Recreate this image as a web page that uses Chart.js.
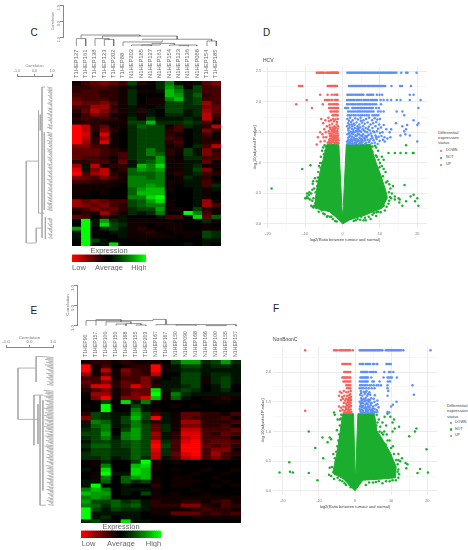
<!DOCTYPE html>
<html>
<head>
<meta charset="utf-8">
<script src="https://cdn.jsdelivr.net/npm/chart.js@4"></script>
<style>
  html, body { margin: 0; background: #fff; }
  body { position: relative; width: 468px; height: 550px; overflow: hidden; font-family: "Liberation Sans", sans-serif; }
  canvas, .txt { position: absolute; }
  canvas { filter: blur(0.3px); }
  .txt { white-space: nowrap; color: #333; line-height: 1; }
</style>
</head>
<body>
<script>
// sample labels
const samplesC = ["T1HEP127","T1HEP161","T1HEP138","T1HEP123","T1HEP202","T1HEP88","N1HEP202","N1HEP185","N1HEP127","N1HEP161","N1HEP154","N1HEP123","N1HEP136","N1HEP088","T1HEP154","T1HEP185"];
const samplesE = ["T1HEP90","T1HEP157","T1HEP100","T1HEP150","T1HEP168","T1HEP155","T1HEP203","N1HEP167","T1HEP167","N1HEP150","N1HEP090","N1HEP168","N1HEP166","N1HEP100","N1HEP155","N1HEP157"];

// heatmap C, one line per row, -9 = full red, 9 = full green
const heatC = [
  [-1,-3,-4,-5,-4,-3,3,-2,-1,2,5,1,-1,1,-4,-5],
  [-2,-2,-3,-3,-2,-1,1,0,0,2,6,4,0,3,-3,-3],
  [-2,-3,-3,-2,-2,-1,2,-1,-1,1,7,5,2,3,-3,-3],
  [-3,-3,-3,-2,-2,-1,2,0,0,0,7,6,2,4,-2,-3],
  [-4,-3,-3,-3,-2,-1,2,0,-1,-1,5,7,2,3,-3,-3],
  [-5,-4,-4,-5,-3,-1,2,0,-1,-1,3,3,2,3,-6,-3],
  [-3,-3,-6,-6,-2,-1,1,-1,0,1,3,3,2,2,-5,-4],
  [-2,-4,-7,-5,-3,-1,1,-2,1,0,3,3,1,2,-6,-4],
  [-1,-3,-5,-4,-1,-1,1,-1,1,0,2,2,1,2,-7,-3],
  [-2,-3,-2,-3,-2,-1,2,-1,3,1,1,1,2,1,-7,-2],
  [-1,-2,-2,-1,-1,-1,3,3,7,2,2,2,3,2,-3,-1],
  [-9,-7,-2,-4,-1,-1,2,4,3,3,-1,-3,2,1,-2,-7],
  [-9,-7,-2,-5,-2,0,2,3,3,3,-2,-3,0,1,-5,-2],
  [-9,-8,-1,-8,-1,0,2,3,3,3,-2,-1,0,1,-3,-1],
  [-9,-7,-2,-6,-1,0,2,3,3,3,-3,-2,0,1,-2,-1],
  [-9,-6,-2,-8,-1,0,2,3,3,3,-2,-3,0,1,-2,-2],
  [-5,-5,-3,-2,-1,0,2,3,3,3,-1,-2,0,2,-3,-7],
  [-4,-4,-4,-3,-2,-1,2,3,5,3,-2,-1,3,1,-5,-2],
  [-4,-4,-4,-3,-2,-3,2,3,5,4,-2,-1,3,1,-5,-3],
  [-4,-3,-3,-2,-1,-3,2,3,3,6,-1,0,2,2,-3,-3],
  [-2,-2,-3,-3,-1,-4,1,3,4,6,-1,-1,1,1,-4,-1],
  [-6,1,-7,-1,-2,-2,1,7,5,8,-1,-1,1,2,-1,-1],
  [-8,1,-5,-7,-1,-2,4,6,5,6,-1,-1,1,3,-5,-1],
  [-9,-3,-6,-7,-2,-1,4,4,4,5,-1,-2,1,2,-3,-2],
  [-5,-4,-3,-5,-3,-1,5,5,4,5,0,-1,2,1,-2,0],
  [-3,-3,-2,-2,-1,-1,5,5,5,5,-1,-1,1,1,-3,-1],
  [-1,-1,-1,-1,-1,0,5,5,6,5,-1,0,1,1,-3,2],
  [-1,-1,-1,-1,0,0,4,6,7,7,-1,0,0,1,-1,1],
  [-1,-1,0,-1,0,0,4,7,7,7,0,0,0,1,-1,0],
  [-1,0,0,0,0,0,5,5,8,9,0,0,0,1,-1,0],
  [-6,-4,-5,-4,-3,-3,3,4,6,8,-1,0,0,1,-6,-1],
  [-6,-5,-4,-5,-3,-2,3,4,5,5,-1,0,0,1,-6,-3],
  [-2,-3,-5,-4,-4,-2,2,3,3,6,-1,-1,0,3,-2,-1],
  [-1,-2,-1,-6,-3,-1,2,1,2,5,0,0,9,5,-3,-1],
  [-4,-3,0,-2,-1,1,0,0,0,1,-3,-3,0,8,-4,4],
  [0,9,1,6,2,1,-1,-1,-1,-1,-1,0,0,0,2,-1],
  [0,9,1,8,3,2,-1,-1,0,-1,-1,-1,0,0,-1,0],
  [6,9,0,2,3,1,-1,-2,-1,0,-1,-1,0,0,-1,-1],
  [1,9,-1,0,1,1,-1,-1,-2,-1,0,-1,-1,-1,3,2],
  [1,9,0,0,0,1,-1,-1,-1,-1,-1,0,-1,0,3,2],
  [0,9,3,1,0,0,0,-1,0,0,0,0,0,0,1,1],
  [0,9,1,1,8,0,0,0,0,0,0,0,1,0,1,0]
];

// heatmap E
const heatE = [
  [-1,-2,-2,-1,-2,-1,-1,-1,0,3,6,6,2,3,6,2],
  [-9,-1,-3,0,-1,-2,-2,-9,-1,1,3,3,1,2,2,1],
  [-9,-1,-7,-1,-5,-3,-2,-9,-1,1,2,2,1,1,1,1],
  [-6,-1,-4,-1,-4,-3,-2,-7,0,0,3,3,1,2,2,1],
  [-3,-3,-8,-1,-3,-3,-5,-2,0,1,3,3,-1,2,3,1],
  [-4,-3,-5,-2,-4,-3,-5,-1,1,1,3,3,-1,2,3,1],
  [-3,-8,-8,-2,-4,-8,-5,-2,1,1,2,3,0,1,3,0],
  [-2,-3,-5,-1,-3,-4,-4,8,1,2,3,2,0,1,2,0],
  [-1,-6,-6,-1,-3,-5,-4,9,-1,5,2,1,1,1,1,1],
  [0,-5,-9,-1,-5,-5,-8,7,-1,4,1,0,-1,-1,-2,-1],
  [0,0,3,0,8,1,5,-1,0,0,0,0,0,-1,-1,0],
  [-1,0,9,0,0,3,1,0,0,-1,0,-1,0,0,0,0],
  [0,0,9,0,0,5,1,-1,0,0,0,0,0,0,0,0],
  [-2,3,2,1,1,6,3,-3,1,-1,-4,-4,-2,-2,-1,-3],
  [-5,3,2,1,3,7,3,-9,1,-1,-4,-3,-2,-2,-3,-1],
  [-2,5,4,1,3,5,2,-2,1,-1,-6,-6,-2,-2,-2,-3],
  [1,4,5,1,2,5,3,-4,2,-1,-5,-5,-2,-2,-3,-1],
  [2,3,5,0,3,6,3,-4,2,-1,-7,-7,-3,-3,-3,-4],
  [3,3,6,0,5,6,3,-6,1,-2,-8,-8,-3,-2,-4,-3],
  [2,3,5,1,5,6,3,-5,1,-2,-7,-8,-3,-3,-3,-1],
  [1,3,3,2,3,4,3,-8,2,-3,-8,-9,-3,-4,-4,-3],
  [2,4,4,2,3,4,3,-9,3,-3,-9,-9,-4,-3,-4,-2],
  [1,3,3,2,2,4,3,-8,2,-3,-9,-9,-3,-5,-5,-1],
  [2,3,3,2,2,4,3,-7,2,-4,-8,-9,-3,-6,-3,-2],
  [2,2,3,1,2,4,2,-7,1,-3,-7,-8,-3,-5,-3,-1],
  [0,-1,2,0,0,3,9,-1,0,-1,0,0,0,0,0,0],
  [0,-1,5,0,0,7,8,-1,0,0,0,0,0,0,0,0],
  [1,0,8,0,0,8,7,-1,0,-1,0,0,-1,0,0,-1],
  [0,-1,9,1,1,8,7,0,0,0,0,-1,0,0,-1,0],
  [0,-1,5,0,4,6,7,-1,0,-1,-1,0,0,-1,0,0],
  [1,1,4,0,4,2,3,-1,0,-1,-1,-1,0,0,-1,0],
  [1,9,0,0,1,0,0,-2,0,-1,-1,0,0,-1,0,-1],
  [5,7,5,0,1,1,1,-1,0,0,0,-1,0,0,0,0],
  [7,6,6,0,1,0,3,-1,0,-1,0,0,-1,0,0,0],
  [5,6,5,0,0,0,0,-1,-1,-1,-1,-1,-1,-1,-1,-1],
  [6,3,3,4,2,3,1,-2,-1,-1,-2,-2,-1,-2,-3,-1],
  [5,4,2,4,3,4,1,-2,-2,-2,-5,-5,-2,-1,-3,-2],
  [9,3,1,3,2,2,1,-1,-1,-1,-1,-2,-3,-2,-2,-1],
  [9,1,1,1,1,1,0,-1,-1,-4,-4,-4,-2,-3,-2,-3],
  [9,1,2,0,1,1,0,0,0,0,0,-1,-1,-1,-1,-1],
  [2,3,1,0,8,1,1,0,0,0,0,0,0,0,0,0]
];

// colour key
const keyLevels = [-9,-8.5,-8,-7.5,-7,-6.5,-6,-5.5,-5,-4.5,-4,-3.5,-3,-2.5,-2,-1.5,-1,-0.5,0,0.5,1,1.5,2,2.5,3,3.5,4,4.5,5,5.5,6,6.5,7,7.5,8,8.5,9];
const keyTicks = { 3: "Low", 18: "Average", 33: "High" };

// top trees: [left x, right x, height, left foot, right foot], x in columns
const treeTopC = [
  [0.5,1.5,1.1,1.56,1.56],[3.5,4.5,1.15,1.56,1.56],[2.5,4,1.1,1.56,1.15],
  [1,7.3,0.875,1.1,0.94],[3.3,11.3,0.94,1.1,1.14],[7.6,15,1.14,1.2,1.25],
  [14.5,15.5,1.25,1.56,1.56],[5.5,9.7,1.31,1.56,1.2],[6.4,9.5,1.5,1.56,1.4],
  [7.5,8.5,1.5,1.56,1.56],[10.5,13.4,1.5,1.56,1.56],[8.6,11,1.4,1.5,1.5],[11.5,12.5,1.54,1.58,1.58]
];
const treeTopE = [
  [0.5,7.2,0.78,1.03,0.76],[1.5,4,0.73,1.03,0.84],[2.5,5,0.84,1.03,0.93],
  [3.5,4.5,0.95,1.03,1.03],[4.5,6,0.93,1.03,1],[5.5,6.5,1,1.03,1.03],
  [7.2,8.5,0.72,0.76,0.98],[7.5,15.5,0.98,1.03,1.06],[9.5,11.5,1,1.03,1.03],[12.5,14.5,1.03,1.05,1.05]
];

// side trees: [correlation, first row, correlation, last row]
const treeSideC = [
  [-0.47,20.3,-0.47,41.1],[0.1,37.3,0.1,40.9],[0.23,7.4,0.23,33.5],[0.43,1.5,0.43,39.8],
  [0.33,8.5,0.33,12.5],[0.56,13,0.56,32.7],[0.62,34.5,0.62,40],[-0.47,41.1,0.1,41.1],
  [-0.47,20.3,0.23,20.3],[0.23,33.5,0.56,33.5],[0.43,1.5,0.6,1.5],[0.1,37.3,0.43,37.3]
];
const treeSideE = [
  [-0.49,1.9,-0.49,14.8],[-0.49,14.8,0.45,14.8],[-0.49,1.9,0.28,1.9],[0.19,8.7,0.19,21.3],
  [0.28,-1,0.28,5.4],[0.45,8.7,0.45,36.4],[0.57,10,0.57,32.7],[0.36,11,0.36,21],
  [0.28,-1,0.6,-1],[0.19,8.7,0.6,8.7],[0.45,36.4,0.7,36.4]
];

// tree leaves
const leafRowsC = [1.5,1.9,2.2,2.6,2.9,3.3,3.6,4,4.3,4.7,5,5.4,5.7,6,6.4,6.8,7.1,7.5,7.8,8.2,8.5,8.9,9.2,9.6,9.9,10.3,10.6,11,11.3,11.7,12,13,13.4,13.7,14,14.4,14.8,15.1,15.5,15.8,16.2,16.5,16.9,17.2,17.6,17.9,18.3,18.6,19,19.3,19.7,20,20.4,20.7,21,21.4,21.8,22.1,22.5,22.8,23.2,23.5,23.9,24.2,24.6,24.9,25.3,25.6,26,26.3,26.7,27,27.4,27.7,28,28.4,28.8,29.1,29.5,29.8,30.2,30.5,30.9,31.2,31.6,31.9,32.3,32.6,34.8,35.1,35.5,35.9,36.2,36.6,36.9,37.3,37.6,38,38.3,38.7,39,39.4,39.7];
const leafFromC = [0.72,0.8,0.74,0.84,0.78,0.88,0.76,0.84,0.9,0.78,0.86,0.8,0.74,0.88,0.92,0.76,0.84,0.78,0.88,0.72,0.8,0.9,0.74,0.84,0.78,0.88,0.92,0.76,0.82,0.72,0.84,0.7,0.78,0.74,0.86,0.8,0.9,0.72,0.82,0.76,0.88,0.8,0.92,0.7,0.78,0.74,0.86,0.8,0.9,0.74,0.84,0.78,0.88,0.94,0.72,0.8,0.76,0.84,0.9,0.74,0.82,0.88,0.76,0.84,0.92,0.72,0.8,0.86,0.74,0.82,0.9,0.78,0.84,0.76,0.92,0.72,0.8,0.86,0.74,0.82,0.78,0.88,0.7,0.76,0.84,0.74,0.8,0.72,0.74,0.8,0.84,0.9,0.76,0.82,0.88,0.72,0.8,0.86,0.92,0.76,0.84,0.9,0.8];
const leafRowsE = [-1,-0.6,-0.3,0.1,0.4,0.8,1.1,1.5,1.8,2.2,2.5,2.9,3.2,3.6,3.9,4.2,4.6,5,5.3,5.7,6,7.5,7.9,8.2,8.6,8.9,9.2,9.6,10,10.3,10.7,11,11.4,11.7,12,12.4,12.8,13.1,13.5,13.8,14.2,14.5,14.9,15.2,15.6,15.9,16.3,16.6,17,17.3,17.7,18,18.4,18.7,19,19.4,19.8,20.1,20.5,20.8,21.2,21.5,21.9,22.2,22.6,22.9,23.3,23.6,24,24.3,24.7,25,25.4,25.7,26,26.4,26.8,27.1,27.5,27.8,28.2,28.5,28.9,29.2,29.6,29.9,30.3,30.6,31,31.3,31.7,32,32.4,32.7,33,33.4,33.8,34.1,34.5,34.8,35.2,35.5,35.9,36.2];
const leafFromE = [0.6,0.72,0.66,0.8,0.7,0.82,0.66,0.76,0.86,0.72,0.8,0.9,0.7,0.78,0.84,0.72,0.8,0.9,0.76,0.84,0.74,0.6,0.7,0.66,0.76,0.62,0.7,0.8,0.66,0.74,0.84,0.68,0.78,0.72,0.62,0.7,0.8,0.66,0.74,0.62,0.7,0.78,0.64,0.72,0.82,0.66,0.74,0.62,0.7,0.78,0.66,0.86,0.72,0.8,0.66,0.74,0.84,0.7,0.78,0.88,0.72,0.64,0.74,0.82,0.7,0.78,0.88,0.74,0.82,0.7,0.78,0.86,0.74,0.82,0.9,0.7,0.8,0.74,0.86,0.72,0.8,0.9,0.76,0.84,0.72,0.8,0.88,0.74,0.82,0.9,0.76,0.84,0.72,0.8,0.88,0.76,0.84,0.92,0.78,0.86,0.74,0.82,0.9,0.8];

// volcano axes
const volcanoXTicks = [-20,-15,-10,-5,0,5,10,15,20];
const volcanoYTicksD = [0,0.25,0.5,0.75,1,1.25,1.5,1.75,2,2.25,2.5];
const volcanoYTicksF = [0,0.25,0.5,0.75,1,1.25,1.5,1.75,2,2.25];

// volcano outlines of the dense green cloud, [log2 ratio, -log10 p]
const cloudD = [[0.1,0.18],[1,1.3],[7.5,1.3],[8.2,1.15],[9,1],[10.2,0.8],[11.5,0.56],[12,0.43],[10.6,0.26],[6.3,0.15],[2,0.07],[0,0],[-1.2,0.08],[-3.5,0.2],[-7.4,0.26],[-7.4,0.3],[-7,0.55],[-6.2,0.8],[-5.2,1.06],[-4.2,1.3],[-1,1.3],[-0.2,0.3]];
const cloudF = [[0.2,0.3],[0.8,1.3],[5.4,1.3],[6,1.02],[7.8,0.85],[9.8,0.64],[11.4,0.4],[11.2,0.22],[7.6,0.2],[2.2,0.18],[0,0],[-3.2,0.2],[-6.2,0.3],[-4.9,0.66],[-4.1,1],[-3.4,1.3],[-0.4,1.3],[0,0.3]];

// HCV points
const downRowsD = [
  [2.475,[-6.9,-6.5,-6.2,-5.9,-5.6,-5.3,-5,-4.4,-4.1,-3.8,-3.5,-3.2,-3,-2.8,-2.6,-2.4,-2.2,-2,-1.8,-1.6,-1.4,-1.2]],
  [2.26,[-11.7,-11.2,-10.8,-4,-3.6,-3.3,-3,-2.8,-2.5,-2.2,-2,-1.8,-1.5]],
  [2.115,[-6,-4,-2.9,-2.2,-1.7,-1.4]],
  [2.03,[-9.6,-4.7,-4.2,-3.9,-3.6,-3,-2.7,-2,-1.8,-1.5,-1.3]],
  [1.96,[-12.4,-5.3,-3.6,-3.2,-2.7,-2.3,-1.9,-1.6,-1.3]],
  [1.9,[-8.2,-3.6,-3.2,-2.9,-2.5,-2.2,-1.8,-1.5,-1.2]],
  [1.84,[-3.2,-2.9,-2.4,-2,-1.6,-1.3]],
  [1.78,[-2.7,-2.3,-1.9,-1.6,-1.3]]
];
const downScatterD = [[-5.7,1.72],[-5.2,1.65],[-4.6,1.7],[-3.8,1.74],[-3.1,1.7],[-2.5,1.72],[-1.9,1.71],[-1.3,1.72],[-4.9,1.55],[-4.2,1.6],[-3.5,1.62],[-2.8,1.64],[-2.2,1.6],[-1.6,1.63],[-1.2,1.6],[-6,1.5],[-5.4,1.47],[-4.5,1.5],[-3.7,1.52],[-3.2,1.55],[-2.6,1.54],[-2,1.56],[-1.4,1.52],[-6.6,1.42],[-5.9,1.35],[-5.1,1.42],[-3.4,1.44],[-2.9,1.47],[-2.4,1.46],[-1.8,1.48],[-1.2,1.45],[-3.6,1.38],[-3,1.4],[-2.5,1.38],[-2,1.41],[-1.5,1.4],[-1.1,1.37],[-4,1.33],[-3.4,1.32],[-2.8,1.34],[-2.2,1.33],[-1.7,1.35],[-1.3,1.32],[-3.1,1.48],[-2.1,1.52],[-1.6,1.44],[-2.6,1.42],[-3.3,1.36],[-1.9,1.37],[-6.9,1.3],[-4.8,1.36],[-2.3,1.68],[-1.5,1.67],[-3.6,1.68],[-2.7,1.58],[-1.8,1.58],[-1.3,1.56],[-3.4,1.58],[-2.3,1.56],[-2.9,1.52],[-1.7,1.52],[-2.4,1.5],[-1.3,1.48],[-3.5,1.48],[-2.2,1.44],[-3,1.44],[-1.4,1.43],[-1.9,1.44],[-3.3,1.4],[-2.7,1.37],[-2.3,1.39],[-1.2,1.4],[-1.6,1.37],[-3.7,1.34],[-3.1,1.33],[-2.5,1.34],[-1.9,1.32],[-1.5,1.33],[-1.1,1.32],[-4.4,1.42]];
const upRowsD = [
  [2.475,[1.3,1.7,2,2.4,2.7,3.1,3.4,3.8,4.1,4.5,4.8,5.2,5.5,5.9,6.2,6.6,6.9,7.3,7.6,8,8.3,8.7,9,9.4,9.7,10.1,10.4,10.8,11.1,11.5,11.8,12.2,12.5,12.9,13.2,13.6,14,14.4,15.7,17,17.4,19.8]],
  [2.26,[1.7,2,2.4,2.7,3.1,3.4,3.8,4.1,4.5,4.8,5.2,5.5,5.9,6.2,6.6,6.9,7.3,7.6,8,8.3,8.7,9,9.4,9.7,10.1,10.4,10.8,11.1,11.4,13.1,15.4,15.9,18.3]],
  [2.115,[1.3,1.7,2.1,2.5,3,3.5,3.9,4.4,4.8,5.2,5.6,6.6,7,7.4,7.8,8.2,9.2,9.9,10.6,18,19]],
  [2.03,[1.2,1.6,2,2.4,2.8,3.2,3.7,4.1,4.5,5,5.6,6,6.5,7,7.6,8,8.4,8.8,9.2,10.2,11,12,13,14.5,15.5,18,20.9]],
  [1.96,[1.2,1.7,2.2,2.6,3,3.5,4,4.4,4.8,5.3,5.8,6.2,6.6,7.1,7.5,8,8.5,9,10.3]],
  [1.9,[0.7,1,1.5,2.6,3,3.4,3.9,4.3,4.7,5.1,5.5,5.9,6.3,6.8,7.3,7.7,8.1,9,9.7,20.3]],
  [1.84,[1.5,2,2.5,3,3.5,4,4.4,4.8,5.3,5.8,6.3,6.8,7.3,7.8,8.3,9.5,10.2,11,14.5,16]],
  [1.78,[1.4,1.9,2.4,3,3.5,4.2,4.8,5.3,5.9,6.5,7,8,8.5,9,9.5,16.5]]
];
const upScatterD = [[1.3,1.72],[2,1.74],[2.7,1.7],[3.4,1.73],[4.1,1.71],[4.8,1.74],[5.6,1.7],[6.3,1.72],[7.1,1.74],[7.9,1.7],[8.6,1.73],[9.3,1.71],[10,1.72],[1.5,1.65],[2.3,1.67],[3,1.64],[3.7,1.66],[4.5,1.63],[5.2,1.66],[5.9,1.64],[6.7,1.66],[7.5,1.63],[8.2,1.65],[9,1.67],[9.8,1.63],[1.2,1.6],[1.9,1.58],[2.6,1.6],[3.3,1.57],[4,1.6],[4.7,1.58],[5.5,1.6],[6.2,1.57],[7,1.59],[8,1.57],[8.8,1.6],[9.5,1.56],[10.3,1.58],[1.6,1.53],[2.2,1.51],[2.9,1.54],[3.6,1.52],[4.3,1.54],[5,1.51],[5.8,1.53],[6.6,1.5],[7.3,1.53],[8.5,1.5],[9.2,1.52],[10,1.49],[10.7,1.5],[1.3,1.47],[2,1.45],[2.7,1.47],[3.4,1.45],[4.1,1.48],[4.8,1.45],[5.5,1.47],[6.1,1.44],[7,1.46],[7.8,1.44],[8.8,1.45],[9.6,1.43],[10.4,1.44],[11.2,1.42],[1.5,1.41],[2.3,1.39],[3,1.41],[3.8,1.39],[4.5,1.41],[5.2,1.38],[5.9,1.4],[6.7,1.38],[7.5,1.39],[8.3,1.37],[9.1,1.39],[9.9,1.36],[10.8,1.38],[1.2,1.35],[1.9,1.34],[2.6,1.36],[3.3,1.33],[4,1.35],[4.7,1.33],[5.5,1.35],[6.3,1.33],[7,1.34],[7.8,1.32],[8.6,1.33],[9.4,1.31],[1.4,1.32],[2.2,1.31],[3,1.31],[3.6,1.32],[4.4,1.31],[5.1,1.32],[6,1.31],[2.5,1.43],[3.6,1.44],[1.7,1.37],[2.8,1.5],[1.7,1.69],[4.9,1.69],[12,1.4],[12.6,1.5],[13,1.55],[14.3,1.65],[11.7,1.55],[15.5,1.45],[16,1.6],[16.5,1.52],[16.8,1.47],[17,1.55],[17.3,1.62],[18,1.45],[19,1.7],[20,1.62],[20.3,1.65],[20,1.35],[12.8,1.42],[11,1.62],[11.3,1.35],[1.8,1.62],[2.4,1.63],[3.2,1.62],[3.9,1.56],[1.5,1.56],[2.5,1.56],[3.2,1.5],[4,1.52],[4.7,1.52],[2.4,1.48],[1.7,1.49],[3.8,1.45],[4.4,1.47],[5.2,1.44],[1.8,1.43],[2.9,1.38],[3.4,1.39],[4.2,1.37],[4.9,1.39],[5.6,1.41],[6.4,1.42],[1.5,1.37],[2.2,1.36],[3.7,1.35],[5.1,1.36],[6,1.37],[7.2,1.36],[1.8,1.31],[2.6,1.32],[3.3,1.37],[4.6,1.35],[6.6,1.44],[8,1.41],[6.8,1.55],[7.6,1.48],[8.2,1.52],[9,1.42],[6.1,1.51],[5.4,1.55],[4.3,1.57]];
const notPointsD = [[-19,0.58],[-10.8,0.9],[-8.6,0.96],[-7.9,0.7],[-8,0.66],[-9,0.48],[-9.5,0.45],[-9.8,0.42],[-10,0.42],[-9.2,0.42],[-8.7,0.4],[-8.4,0.5],[-8.1,0.56],[-8.9,0.52],[-9.5,0.5],[-7.6,0.3],[-8,0.28],[-7.8,0.27],[-7.3,0.34],[-6.8,0.36],[-7.2,0.52],[-7.4,0.75],[-6.8,0.62],[-6.5,0.85],[-6.3,0.95],[-6,1],[-5.8,1.1],[-5.5,1.2],[-5.2,1.25],[-4.8,1.29],[-4.5,1.27],[-6.2,0.7],[-7,0.45],[-6.9,0.28],[-5.6,0.22],[-4.8,0.16],[-3,0.12],[-4,0.13],[-2,0.05],[12.8,0.58],[13.5,0.62],[13.2,0.5],[14,0.45],[14,0.4],[13,0.42],[15,0.42],[15.3,0.4],[15.2,0.35],[16,0.3],[17,0.37],[18.2,0.45],[19,0.48],[19.4,0.37],[20,0.42],[20.3,0.3],[16.6,0.64],[15.5,1.16],[17,1.16],[14,1.16],[12.3,1.16],[18.8,1.16],[19,1.16],[17,1.29],[11,1.05],[10.5,1.1],[10,1],[9.5,1.2],[9,1.25],[8.5,1.05],[8,1.18],[11.5,0.85],[11,0.9],[10.5,0.95],[12,0.7],[12.5,0.65],[11,0.3],[9.5,0.2],[8,0.15],[7,0.12],[6,0.1],[5,0.12],[4,0.08],[3.5,0.06],[8.7,1.28],[7.6,1.2],[12.3,0.33],[11.8,0.28],[10.2,0.19],[9,0.13],[7.5,0.08],[6.2,0.06],[8.9,1.12],[9.6,1.05],[9.9,0.93],[10.8,0.78],[11.6,0.68],[12.4,0.52],[12.7,0.44],[12.5,0.38],[11.3,0.22],[9.1,0.19],[8.4,0.18],[5.6,0.06],[4.7,0.07],[3,0.05],[-7.8,0.42],[-7.6,0.58],[-6.9,0.7],[-6.6,0.76],[-5.9,0.92],[-5.5,1],[-5,1.14],[-4.6,1.2],[-8.4,0.3],[-8.1,0.38],[-6.4,0.2],[-5.2,0.17],[-4.2,0.12],[-3.4,0.12],[-2.6,0.08],[-1.6,0.04],[8,1.27],[9.2,1.1]];

// NonBnonC points
const downRowsF = [
  [2.37,[-13.8,-5.8,-5.4,-5,-4.3,-4,-3.7,-3.4,-3.1,-2.8,-2.5,-2.2,-1.9,-1.6,-1.3,-0.6]],
  [2.135,[-3.5,-3.1,-2.8,-2.4,-2,-1.6,-1.3]],
  [2,[-3,-2.6,-2.2,-1.8,-1.3]],
  [1.91,[-3.5,-3.2,-2.9,-2.6,-2.3,-2,-1.6,-1.3]],
  [1.84,[-3.2,-2.8,-2.4,-2,-1.6,-1.3]],
  [1.78,[-2.4,-2,-1.6,-1.3]],
  [1.73,[-2.2,-1.7,-1.3]]
];
const downScatterF = [[-13.8,1.35],[-4.2,1.67],[-3.7,1.65],[-3.1,1.68],[-2.4,1.66],[-1.8,1.67],[-1.2,1.68],[-4.4,1.6],[-3.6,1.58],[-3,1.6],[-2.2,1.6],[-1.6,1.61],[-1.1,1.58],[-3.9,1.53],[-3.3,1.55],[-2.7,1.52],[-2,1.54],[-1.4,1.55],[-3.1,1.48],[-2.4,1.47],[-1.8,1.49],[-1.2,1.48],[-4.4,1.42],[-3.8,1.4],[-3.2,1.42],[-2.6,1.41],[-2,1.43],[-1.5,1.42],[-1.1,1.43],[-4.1,1.35],[-3.4,1.36],[-2.8,1.35],[-2.2,1.37],[-1.6,1.36],[-1.2,1.37],[-3,1.32],[-2.4,1.32],[-1.9,1.33],[-1.4,1.31],[-1,1.33],[-1.8,1.4],[-1.3,1.52],[-2,1.5],[-1.6,1.46],[-1.3,1.42],[-2.3,1.44],[-1.9,1.36],[-1.5,1.33],[-2.5,1.38],[-1.7,1.57],[-1.3,1.63],[-1.7,1.52],[-1.1,1.53],[-2.5,1.55]];
const upRowsF = [
  [2.37,[1.3,1.6,1.9,2.2,2.5,2.8,3.1,3.4,3.7,4,4.3,4.6,4.9,5.2,5.5,5.8,6.1,6.4,6.7,7,7.3,7.6,8.5,8.8,9.1,9.4,9.7,10,10.3,10.6,10.9,11.2,11.5,11.8,12.1,12.4,12.8,13.4,20.9]],
  [2.135,[1.3,1.6,2,2.3,3,3.3,3.6,3.9,4.2,5,5.3,6,6.2,8.7,9.1,9.5,9.9]],
  [2,[1.7,2,2.3,2.6,2.9,3.2,3.5,4.2,4.7,5.2,5.8,8.1,9.4,9.8,10.6]],
  [1.91,[1.5,1.8,2.1,2.4,2.7,3,3.3,3.6,4.5,7.9,9,9.4,9.8,10.2,11.6]],
  [1.84,[1.3,1.7,2.1,2.5,2.9,3.2,3.5,4.8,5.2,6.8,9.1,9.7]],
  [1.78,[1.4,1.8,2.3,2.8,3.3,4,4.5,5.2,6,6.5,7.2,9,15.9]],
  [1.73,[1.3,1.9,2.4,3.1,3.8,4.6,5.4,9]]
];
const upScatterF = [[16.3,1.62],[1.6,1.68],[2.4,1.67],[3.2,1.68],[4,1.66],[9.2,1.68],[9,1.6],[1.4,1.62],[2,1.6],[2.7,1.63],[3.4,1.6],[4.2,1.62],[5.5,1.61],[1.7,1.56],[2.4,1.55],[3,1.57],[3.7,1.54],[4.5,1.56],[5.2,1.55],[6.2,1.52],[1.3,1.5],[1.9,1.49],[2.6,1.51],[3.2,1.48],[3.9,1.5],[4.6,1.48],[5.4,1.5],[6.2,1.46],[1.6,1.44],[2.2,1.43],[2.9,1.45],[3.6,1.42],[4.3,1.44],[5,1.42],[5.7,1.44],[6.5,1.41],[1.3,1.38],[1.9,1.37],[2.6,1.39],[3.3,1.37],[4,1.38],[4.7,1.36],[5.4,1.38],[6,1.36],[1.6,1.33],[2.3,1.32],[3,1.34],[3.7,1.32],[4.4,1.33],[5.2,1.31],[6.2,1.33],[10,1.42],[10.5,1.45],[11.5,1.5],[9.5,1.32],[9,1.33],[2,1.53],[3.4,1.52],[2.8,1.41],[1.7,1.65],[2.9,1.66],[3.6,1.63],[1.8,1.52],[2.8,1.53],[4.1,1.53],[1.6,1.47],[2.3,1.47],[3.5,1.46],[4.4,1.47],[1.9,1.41],[3.2,1.4],[4,1.41],[4.9,1.39],[1.5,1.35],[2.2,1.35],[3,1.36],[3.6,1.35],[4.4,1.36],[5,1.34],[2,1.31],[2.7,1.31],[3.4,1.32],[4.8,1.32],[5.6,1.33],[1.4,1.42]];
const notPointsF = [[-20.9,0.31],[-18.2,0.48],[-18,0.32],[-17.2,0.31],[-12.8,1],[-12.8,0.3],[-11,0.72],[-10.4,0.18],[-9,0.9],[-8.8,0.55],[-7.6,0.82],[-7,0.9],[-6.6,0.87],[-7,0.39],[-7.2,0.27],[-6,0.62],[-5.8,0.2],[-5.4,0.28],[-5.6,1.28],[-5.8,1.32],[-4.8,1.2],[-4.8,0.42],[-4.9,0.75],[-5,1.02],[-4.4,0.95],[-4.2,1.1],[-3.9,1.22],[-5.3,0.5],[-3.5,0.16],[-4.2,0.18],[-2.5,0.1],[-1.5,0.1],[20.2,0.31],[19.8,0.7],[18,0.37],[17.3,0.3],[17,1.05],[16.6,1],[15,0.92],[14.5,0.45],[14,0.47],[14.2,0.38],[13,0.55],[12.5,0.5],[12,0.52],[12,0.62],[12.2,1.08],[11,1.05],[10.4,1.15],[10.8,1.2],[10.4,1],[9.8,1.25],[9,1.3],[12,0.22],[11.8,0.32],[8.6,1.1],[7.6,1.15],[6.6,1.2],[7.8,0.95],[6.8,1],[9,0.85],[8.5,0.78],[10.5,0.75],[6,1.28],[7,0.9],[5.9,1.1],[8.2,1.25],[9.6,0.16],[8.6,0.16],[6.6,0.16],[5,0.14],[3.9,0.14],[3,0.1],[7.6,0.13],[6.2,1.15],[7,1.08],[7.4,0.98],[8.1,1],[8.8,0.95],[9.6,0.85],[10,0.72],[10.8,0.62],[11.4,0.52],[11.8,0.45],[12,0.36],[12.2,0.28],[11.3,0.18],[10.4,0.18],[5.8,0.15],[-6.6,0.25],[-6.4,0.4],[-5.6,0.55],[-5.2,0.66],[-4.6,0.85],[-4.2,1.2],[-3.8,1.28],[-5,0.3],[-4.8,0.22],[-2.9,0.13],[-1.2,0.06]];

// legend
const statusNames = ["DOWN", "NOT", "UP"];
const statusColors = ["#f8605a", "#1bae2e", "#5c8ffb"];

Chart.defaults.animation = false;
Chart.defaults.responsive = false;
Chart.defaults.font.family = '"Liberation Sans", Arial, sans-serif';
Chart.defaults.plugins.legend.display = false;
Chart.defaults.plugins.tooltip.enabled = false;

function addChart(left, top, width, height, config) {
  const canvas = document.createElement("canvas");
  canvas.width = width;
  canvas.height = height;
  canvas.style.left = left + "px";
  canvas.style.top = top + "px";
  document.body.appendChild(canvas);
  return new Chart(canvas, config);
}

function addText(left, top, size, text, color) {
  const el = document.createElement("div");
  el.className = "txt";
  el.style.left = left + "px";
  el.style.top = top + "px";
  el.style.fontSize = size + "px";
  if (color) el.style.color = color;
  el.textContent = text;
  document.body.appendChild(el);
}

// keep an axis to its given size, labels may hang over the chart edge
function fixSize(s, height, width) {
  if (height !== undefined) s.height = height;
  if (width !== undefined) s.width = width;
  s.paddingLeft = s.paddingRight = s.paddingTop = s.paddingBottom = 0;
}

function expressionColor(v) {
  const level = Math.round(Math.pow(Math.abs(v) / 9, 1.2) * 255);
  return v < 0 ? `rgb(${level},0,0)` : `rgb(0,${level},0)`;
}

function drawHeatmap(left, top, width, height, labels, rows, labelSize) {
  const labelH = 36;
  addChart(left, top - labelH, width, height + labelH, {
    type: "bar",
    data: {
      labels: labels,
      datasets: rows.map((row, r) => ({
        data: row.map(() => [r, r + 1]),
        backgroundColor: row.map(expressionColor),
        barPercentage: 1,
        categoryPercentage: 1,
        grouped: false,
        borderWidth: 0,
      })),
    },
    options: {
      layout: { padding: 0 },
      scales: {
        x: {
          position: "top",
          grid: { display: false, drawTicks: false },
          border: { display: false },
          // rotated labels sit left of the tick, bring them back over the column
          ticks: { minRotation: 90, maxRotation: 90, autoSkip: false, crossAlign: "center", labelOffset: 6.3, padding: 3, color: "#666", font: { size: labelSize } },
          afterFit(s) { fixSize(s, labelH); },
        },
        y: { min: 0, max: rows.length, reverse: true, display: false },
      },
    },
  });
}

function drawKey(left, top, width) {
  addChart(left, top, width, 24, {
    type: "bar",
    data: {
      labels: keyLevels,
      datasets: [{
        data: keyLevels.map(() => 1),
        backgroundColor: keyLevels.map(expressionColor),
        barPercentage: 1,
        categoryPercentage: 1,
      }],
    },
    options: {
      plugins: {
        title: { display: true, text: "Expression", color: "#666", padding: 0, font: { size: 7.5, weight: "normal", lineHeight: 1 } },
      },
      scales: {
        x: {
          grid: { display: false, drawTicks: false },
          border: { display: false },
          ticks: {
            autoSkip: false, maxRotation: 0, padding: 1, color: "#666", font: { size: 7.5 },
            callback: (v, i) => keyTicks[i] || "",
          },
          afterFit(s) { fixSize(s, 9); },
        },
        y: { min: 0, max: 1, display: false },
      },
    },
  });
}

// [left, right, height, foot, foot] -> path points, gaps between brackets
function bracketPoints(list) {
  const pts = [];
  list.forEach(([a, b, h, fa, fb]) => {
    pts.push({ x: a, y: fa }, { x: a, y: h }, { x: b, y: h }, { x: b, y: fb }, { x: null, y: null });
  });
  return pts;
}

function correlationTicks(size) {
  return { color: "#777", font: { size: size }, padding: 1, callback: (v) => v.toFixed(1) };
}

// top tree, x in columns so it lines up with the heatmap
function drawTopTree(axisX, axisTop, axisH, colLeft, colW, nCols, tree, size) {
  const right = colLeft + colW * nCols;
  const chartW = Math.round(right - axisX) + 12;
  addChart(axisX - 12, axisTop, chartW, axisH + 12, {
    type: "scatter",
    data: {
      datasets: [{
        data: bracketPoints(tree),
        showLine: true,
        clip: false,
        pointRadius: 0,
        borderColor: "#666",
        borderWidth: 0.7,
        spanGaps: false,
      }],
    },
    options: {
      layout: { padding: { bottom: 12 } },
      scales: {
        x: { type: "linear", min: -(colLeft - axisX) / colW, max: nCols, display: false },
        y: {
          min: -1, max: 1, reverse: true,
          afterBuildTicks(s) { s.ticks = [{ value: -1 }, { value: 0 }, { value: 1 }]; },
          grid: { drawOnChartArea: false, tickLength: 3, color: "#888" },
          border: { color: "#888" },
          ticks: { ...correlationTicks(size), maxRotation: 90, minRotation: 90 },
          title: { display: true, text: "Correlation", color: "#777", padding: 0, font: { size: size } },
          afterFit(s) { fixSize(s, undefined, 12); },
        },
      },
    },
  });
}

// side tree, y in heatmap rows
function drawSideTree(left, axisY, width, height, rowMin, rowMax, trunks, leafRows, leafFrom, size) {
  const trunkPts = [];
  trunks.forEach(([a, r1, b, r2]) => trunkPts.push({ x: a, y: r1 }, { x: b, y: r2 }, { x: null, y: null }));
  const leafPts = [];
  leafRows.forEach((r, i) => leafPts.push({ x: leafFrom[i], y: r }, { x: 1.02, y: r + 0.25 }, { x: null, y: null }));
  addChart(left - 4, axisY - 12, width + 8, height + 12, {
    type: "scatter",
    data: {
      datasets: [
        { data: leafPts, showLine: true, clip: false, pointRadius: 0, borderColor: "#444", borderWidth: 0.4, spanGaps: false },
        { data: trunkPts, showLine: true, clip: false, pointRadius: 0, borderColor: "#aaa", borderWidth: 0.9, spanGaps: false },
      ],
    },
    options: {
      layout: { padding: { left: 4, right: 4 } },
      scales: {
        x: {
          type: "linear", position: "top", min: -1, max: 1,
          afterBuildTicks(s) { s.ticks = [{ value: -1 }, { value: 0 }, { value: 1 }]; },
          grid: { drawOnChartArea: false, tickLength: 2, color: "#888" },
          border: { color: "#888" },
          ticks: { ...correlationTicks(size), maxRotation: 0 },
          title: { display: true, text: "Correlation", color: "#777", padding: 0, font: { size: size } },
          afterFit(s) { fixSize(s, 12); },
        },
        y: { min: rowMin, max: rowMax, reverse: true, display: false },
      },
    },
  });
}

function rowsToPoints(rows) {
  return rows.flatMap(([y, xs]) => xs.map((x) => ({ x: x, y: y })));
}
function pairsToPoints(pairs) {
  return pairs.map(([x, y]) => ({ x: x, y: y }));
}

function drawVolcano(box, title, cloud, downPts, notPts, upPts) {
  const axisW = box.axisW;
  const useTicks = (values) => (s) => {
    s.ticks = values.map((v) => ({ value: v }));
  };
  const gridColor = (major) => (ctx) => (Number.isInteger(ctx.tick.value / major) ? "#ebebeb" : "#f6f6f6");
  const dot = (pts, color) => ({ data: pts, backgroundColor: color, borderWidth: 0, pointRadius: 1.25 });
  addChart(box.left - axisW, box.top - 11, box.width + axisW, box.height + 11 + 14, {
    type: "scatter",
    data: {
      datasets: [
        dot(downPts, statusColors[0]),
        dot(upPts, statusColors[2]),
        dot(notPts, statusColors[1]),
        {
          data: pairsToPoints(cloud),
          showLine: true,
          fill: "shape",
          backgroundColor: statusColors[1],
          borderColor: statusColors[1],
          borderWidth: 1,
          pointRadius: 0,
        },
      ],
    },
    options: {
      plugins: {
        title: {
          display: true, text: title, align: "start", fullSize: false, color: "#444",
          padding: { top: 0, bottom: 4 }, font: { size: box.titleSize, weight: "normal", lineHeight: 1 },
        },
      },
      scales: {
        x: {
          type: "linear", min: box.xMin, max: box.xMax,
          afterBuildTicks: useTicks(volcanoXTicks),
          grid: { color: gridColor(10), tickLength: 0 },
          border: { display: false },
          ticks: {
            autoSkip: false, maxRotation: 0, padding: 4, color: "#777", font: { size: 3.8 },
            callback: (v) => (Number.isInteger(v / 10) ? v : ""),
          },
          title: { display: true, text: "log2(Ratio between tumour and normal)", color: "#444", padding: 0, font: { size: 4 } },
          afterFit(s) { fixSize(s, 14); },
        },
        y: {
          min: box.yMin, max: box.yMax,
          afterBuildTicks: useTicks(box.yTicks),
          grid: { color: gridColor(0.5), tickLength: 0 },
          border: { display: false },
          ticks: {
            autoSkip: false, padding: 2, color: "#777", font: { size: 3.8 },
            callback: (v) => (Number.isInteger(v / 0.5) ? v.toFixed(1) : ""),
          },
          title: { display: true, text: "-log 10(adjusted P-value)", color: "#444", padding: 0, font: { size: 4 } },
          afterFit(s) { fixSize(s, undefined, axisW); },
        },
      },
    },
  });
}

function drawLegend(left, top, itemX, textX, itemTop, gap) {
  ["Differential", "expression", "status"].forEach((line, i) => addText(left, top + i * 5.4, 4.3, line, "#444"));
  statusNames.forEach((name, i) => {
    const y = itemTop + i * gap;
    const swatch = document.createElement("div");
    swatch.style.cssText = `position:absolute;left:${itemX - 1}px;top:${y - 1}px;width:2.2px;height:2.2px;border-radius:50%;background:${statusColors[i]}`;
    document.body.appendChild(swatch);
    addText(textX, y - 1.8, 3.6, name, "#444");
  });
}

// panel C
addText(30.5, 27.5, 10, "C", "#222");
drawHeatmap(72, 81, 149, 165, samplesC, heatC, 5.8);
drawTopTree(63, 5, 32, 71.7, 9.31, 16, treeTopC, 3.8);
drawSideTree(17, 76, 35, 169, -1.3, 41.6, treeSideC, leafRowsC, leafFromC, 3.7);
drawKey(72, 247, 74);

// panel E
addText(30.5, 306, 10, "E", "#222");
drawHeatmap(81, 360, 160, 163, samplesE, heatE, 5.2);
drawTopTree(77, 285, 40, 81, 10, 16, treeTopE, 4.4);
drawSideTree(6, 347, 47, 163, -3.4, 37.6, treeSideE, leafRowsE, leafFromE, 4.4);
drawKey(81, 523, 80);

// panel D
addText(263, 27.5, 10, "D", "#222");
drawVolcano(
  { left: 263, top: 69, width: 168, height: 159, axisW: 11, titleSize: 5, xMin: -21.3, xMax: 22.6, yMin: -0.066, yMax: 2.57, yTicks: volcanoYTicksD },
  "HCV", cloudD,
  rowsToPoints(downRowsD).concat(pairsToPoints(downScatterD)),
  pairsToPoints(notPointsD),
  rowsToPoints(upRowsD).concat(pairsToPoints(upScatterD))
);
drawLegend(438, 130.5, 440.7, 446, 150.5, 7.3);

// panel F
addText(273, 304, 10, "F", "#222");
drawVolcano(
  { left: 273, top: 348, width: 168, height: 147, axisW: 13, titleSize: 5, xMin: -22.7, xMax: 22.7, yMin: -0.07, yMax: 2.44, yTicks: volcanoYTicksF },
  "NonBnonC", cloudF,
  rowsToPoints(downRowsF).concat(pairsToPoints(downScatterF)),
  pairsToPoints(notPointsF),
  rowsToPoints(upRowsF).concat(pairsToPoints(upScatterF))
);
drawLegend(447, 404, 450.7, 455, 422.7, 6.7);
</script>
</body>
</html>
